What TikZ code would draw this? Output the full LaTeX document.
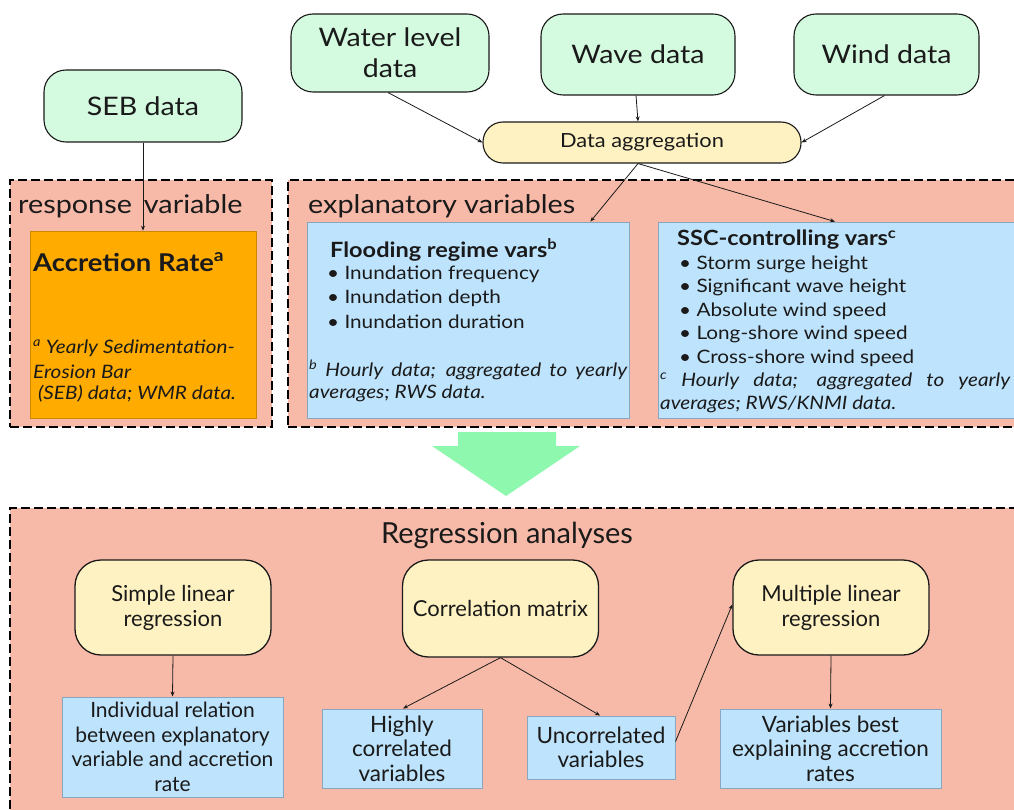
\documentclass[tikz,border=0pt]{standalone}
\usepackage{fontspec}
\setmainfont{Lato}[FakeStretch=1.12]
\newfontfamily\cond{Lato}
\usetikzlibrary{arrows.meta,calc}
\definecolor{salmon}{HTML}{F8BAA8}
\definecolor{orangebox}{HTML}{FFAB00}
\definecolor{bluebox}{HTML}{BEE3FC}
\definecolor{blueedge}{HTML}{8AA6BE}
\definecolor{greenfill}{HTML}{D4FADF}
\definecolor{yellowfill}{HTML}{FFF2C2}
\definecolor{arrowgreen}{HTML}{8FF8AF}
\definecolor{ink}{HTML}{1A1A1A}
\tikzset{
  arr/.style={-{Stealth[length=5pt,width=4pt]}, line width=0.8pt, draw=ink},
  datanode/.style={draw=ink, line width=1.1pt, fill=greenfill, rounded corners=22pt,
    align=center, font=\fontsize{25.5}{31}\selectfont, text=ink, inner sep=0pt},
  aggnode/.style={draw=ink, line width=1.1pt, fill=yellowfill, rounded corners=20pt,
    align=center, font=\fontsize{19.5}{22}\selectfont, text=ink, inner sep=0pt,
    minimum width=318pt, minimum height=41pt},
  outerbox/.style={draw=black, fill=salmon, line width=2.6pt, dash pattern=on 9pt off 4pt,
    inner sep=0pt},
  varbox/.style={draw=blueedge, fill=bluebox, line width=0.8pt, inner sep=0pt},
  regnode/.style={draw=ink, line width=1.3pt, fill=yellowfill, rounded corners=26pt,
    align=center, font=\cond\fontsize{22}{25}\selectfont, text=ink, inner sep=0pt,
    minimum width=196pt, minimum height=95pt},
  resbox/.style={draw=blueedge, fill=bluebox, line width=1pt, align=center,
    font=\cond\fontsize{22.5}{24.5}\selectfont, text=ink, inner sep=0pt},
  lbl/.style={anchor=west, inner sep=0pt, text=ink},
  heading/.style={lbl, font=\fontsize{25.7}{30}\selectfont},
  boxtitle/.style={lbl, font=\bfseries\fontsize{21}{24}\selectfont},
  item/.style={lbl, font=\fontsize{18.5}{22}\selectfont},
  foot/.style={lbl, font=\itshape\fontsize{18.5}{22}\selectfont},
}
\begin{document}
\begin{tikzpicture}[x=1pt,y=-1pt]
\clip (0,0) rectangle (1014,810);
\fill[white] (0,0) rectangle (1014,810);

% outer dashed boxes
\node[outerbox, minimum width=262pt, minimum height=247pt] (resp) at (141,303.5) {};
\node[outerbox, minimum width=740pt, minimum height=247pt] (expl) at (658,303.5) {};
\node[outerbox, minimum width=1020pt, minimum height=320pt] (regr) at (520,668) {};

% data sources
\node[datanode, minimum width=198pt, minimum height=72pt] (seb) at (143,106) {SEB data};
\node[datanode, minimum width=198pt, minimum height=78pt] (wl) at (390,53) {Water level\\data};
\node[datanode, minimum width=194pt, minimum height=81pt] (wave) at (638,54.5) {Wave data};
\node[datanode, minimum width=185pt, minimum height=81pt] (wind) at (886.5,54.5) {Wind data};
\node[aggnode] (agg) at (642,142.5) {Data aggregation};

% labels of outer boxes
\node[heading] (resplbl) at (18,206) {response\hspace{12pt}variable};
\node[heading] (expllbl) at (308,206) {explanatory variables};

% response box
\node[draw=orangebox!80!black, line width=0.6pt, fill=orangebox, minimum width=226pt, minimum height=187pt, inner sep=0pt] (acc) at (143,324.5) {};
\node[lbl, font=\bfseries\fontsize{24.5}{28}\selectfont] (acct) at (33,262) {Accretion Rate\textsuperscript{a}};
\node[foot] (accf1) at (33,348) {\textsuperscript{a} Yearly Sedimentation-};
\node[foot] (accf2) at (33,372) {Erosion Bar};
\node[foot] (accf3) at (33,394) {\ (SEB) data; WMR data.};

% flooding box
\node[varbox, minimum width=322pt, minimum height=196pt] (flood) at (468,320) {};
\node[boxtitle] (floodt) at (330,250) {Flooding regime vars\textsuperscript{b}};
\node[item] (fl1) at (327,274) {\textbullet\ Inundation frequency};
\node[item] (fl2) at (327,298) {\textbullet\ Inundation depth};
\node[item] (fl3) at (327,322) {\textbullet\ Inundation duration};
\node[foot] (flf1) at (309,370) {\makebox[318pt][s]{\textsuperscript{b} Hourly data; aggregated to yearly}};
\node[foot] (flf2) at (309,393) {averages; RWS data.};

% SSC box
\node[varbox, minimum width=356pt, minimum height=196pt] (ssc) at (836,320) {};
\node[boxtitle] (ssct) at (677,240) {SSC-controlling vars\textsuperscript{c}};
\node[item] (s1) at (679,264) {\textbullet\ Storm surge height};
\node[item] (s2) at (679,287.5) {\textbullet\ Significant wave height};
\node[item] (s3) at (679,311) {\textbullet\ Absolute wind speed};
\node[item] (s4) at (679,334.5) {\textbullet\ Long-shore wind speed};
\node[item] (s5) at (679,358) {\textbullet\ Cross-shore wind speed};
\node[foot] (sf1) at (660,381) {\makebox[350pt][s]{\textsuperscript{c}\ Hourly data; aggregated to yearly}};
\node[foot] (sf2) at (660,404) {averages; RWS/KNMI data.};

% connectors top
\draw[arr] (seb.south) -- (acc.north);
\draw[arr] ($(wl.south)+(-2,0)$) -- (agg.west);
\draw[arr] ($(wave.south)+(-2,0)$) -- ($(agg.north)+(-4,0)$);
\draw[arr] ($(wind.south)+(-2,0)$) -- (agg.east);
\draw[arr] ($(agg.south)+(-4,0)$) -- ($(flood.north east)+(-39,0)$);
\draw[arr] ($(agg.south)+(-4,0)$) -- ($(ssc.north)+(-1,0)$);

% big green arrow
\fill[arrowgreen] (458,432) -- (556,432) -- (556,446) -- (580,446) -- (506,496) -- (432,446) -- (458,446) -- cycle;

% regression section
\node[lbl, font=\cond\fontsize{29}{32}\selectfont, anchor=center] (regt) at (507,535) {Regression analyses};
\node[regnode] (slr) at (173,607.5) {Simple linear\\regression};
\node[regnode, minimum height=97pt] (cm) at (500.5,608.5) {Correlation matrix};
\node[regnode] (mlr) at (831,607.5) {Multiple linear\\regression};

\node[resbox, minimum width=221pt, minimum height=100pt, font=\cond\fontsize{21}{24.5}\selectfont] (ind) at (172.5,747) {Individual relation\\between explanatory\\variable and accretion\\rate};
\node[resbox, minimum width=160pt, minimum height=79pt] (hc) at (402,748.5) {Highly\\correlated\\variables};
\node[resbox, minimum width=148pt, minimum height=63pt] (unc) at (601,747.5) {Uncorrelated\\variables};
\node[resbox, minimum width=221pt, minimum height=79pt] (vb) at (830.5,748.5) {Variables best\\explaining accretion\\rates};

\draw[arr] (slr.south) -- (ind.north);
\draw[arr] (cm.south) -- ($(hc.north)+(1,0)$);
\draw[arr] (cm.south) -- ($(unc.north)+(-1,0)$);
\draw[arr] ($(unc.east)+(0,-6)$) -- ($(mlr.west)+(0,-3)$);
\draw[arr] (mlr.south) -- (vb.north);
\end{tikzpicture}
\end{document}
